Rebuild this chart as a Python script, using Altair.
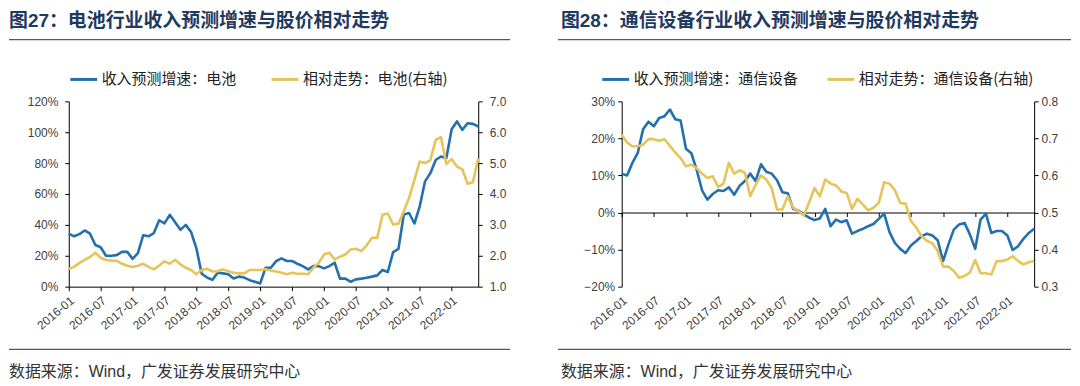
import altair as alt
import pandas as pd

# ---------------- data ----------------
months = pd.date_range("2016-01-01", "2022-06-01", freq="MS").strftime("%Y-%m").tolist()
tick_labels = [m for m in months if m.endswith("-01") or m.endswith("-07")]

battery_growth = [34.3, 32.6, 34.0, 36.4, 34.3, 27.0, 25.5, 20.0, 20.0, 20.4, 22.5, 22.5,
                  18.0, 21.7, 33.3, 32.6, 34.7, 43.0, 41.0, 46.5, 41.7, 36.8, 40.0, 35.4,
                  24.8, 8.4, 5.9, 4.4, 9.0, 8.6, 8.0, 5.3, 6.5, 5.9, 4.2, 3.2,
                  2.1, 12.2, 12.2, 16.5, 18.3, 16.6, 16.6, 14.8, 13.3, 11.2, 13.3, 13.3,
                  11.8, 13.3, 15.5, 5.2, 5.2, 3.2, 4.7, 5.2, 5.8, 6.5, 7.3, 10.8,
                  9.5, 22.4, 24.5, 46.7, 47.7, 40.9, 52.0, 68.2, 73.5, 82.0, 84.3, 83.2,
                  102.0, 107.0, 101.5, 105.8, 105.4, 103.7]
battery_rel = [1.58, 1.64, 1.77, 1.87, 1.96, 2.10, 1.93, 1.87, 1.84, 1.84, 1.74, 1.68,
               1.64, 1.68, 1.74, 1.64, 1.56, 1.68, 1.82, 1.74, 1.87, 1.72, 1.61, 1.54,
               1.40, 1.54, 1.58, 1.49, 1.50, 1.56, 1.50, 1.45, 1.43, 1.43, 1.54, 1.54,
               1.54, 1.56, 1.52, 1.49, 1.45, 1.40, 1.45, 1.42, 1.42, 1.40, 1.61, 1.77,
               2.04, 2.10, 1.88, 1.97, 2.04, 2.20, 2.23, 2.15, 2.33, 2.58, 2.58, 3.33,
               3.37, 3.01, 3.04, 3.44, 3.87, 4.46, 5.05, 5.00, 5.10, 5.75, 5.84, 4.97,
               5.13, 4.89, 4.80, 4.33, 4.38, 5.16]
telecom_growth = [10.5, 10.0, 13.4, 16.1, 22.5, 24.5, 23.3, 25.5, 26.0, 27.8, 25.2, 24.8,
                  17.2, 16.0, 11.5, 6.0, 3.5, 5.0, 6.0, 5.8, 6.8, 4.8, 7.2, 8.5,
                  10.5, 8.5, 13.0, 11.0, 10.5, 8.7, 5.5, 5.2, 1.0, 0.5, -0.5, -1.4,
                  -2.0, -1.6, 1.0, -3.7, -1.9, -2.6, -2.1, -5.7, -5.0, -4.4, -3.7, -3.1,
                  -1.7, -0.3, -5.3, -8.2, -9.8, -10.9, -8.9, -7.7, -6.4, -5.7, -6.2, -7.5,
                  -13.1, -8.6, -4.6, -3.2, -2.8, -5.9, -9.8, -1.9, -0.3, -5.5, -5.0, -5.0,
                  -6.2, -10.1, -9.1, -7.1, -5.5, -4.4]
telecom_rel = [0.710, 0.689, 0.679, 0.679, 0.683, 0.698, 0.698, 0.694, 0.698, 0.680, 0.662, 0.647,
               0.625, 0.629, 0.620, 0.605, 0.593, 0.598, 0.569, 0.578, 0.634, 0.605, 0.614, 0.607,
               0.544, 0.575, 0.600, 0.589, 0.566, 0.508, 0.508, 0.544, 0.513, 0.504, 0.492, 0.528,
               0.566, 0.544, 0.589, 0.578, 0.573, 0.557, 0.553, 0.510, 0.537, 0.522, 0.506, 0.513,
               0.526, 0.582, 0.578, 0.560, 0.526, 0.524, 0.477, 0.459, 0.436, 0.423, 0.417, 0.396,
               0.354, 0.354, 0.342, 0.324, 0.329, 0.338, 0.372, 0.336, 0.336, 0.333, 0.369, 0.369,
               0.373, 0.382, 0.369, 0.360, 0.366, 0.369]

BLUE = "#2470AE"
YELLOW = "#E6C45A"
SANS = "Liberation Sans, Noto Sans CJK SC"
CJK = "Noto Sans CJK SC"
PH = 186


def panel(title, s1, s2, v1, v2, dom1, ticks1, dom2, ticks2, width,
          legend_x, col_pad, rule_x0, rule_x1, title_x, zero_axis,
          lpad_left, lpad_right):
    df = pd.DataFrame({
        "month": months * 2,
        "series": [s1] * len(months) + [s2] * len(months),
        "value": [v / 100 for v in v1] + list(v2),
    })
    base = alt.Chart(df)
    color = alt.Color(
        "series:N",
        scale=alt.Scale(domain=[s1, s2], range=[BLUE, YELLOW]),
        legend=alt.Legend(title=None, orient="none", legendX=legend_x, legendY=-37,
                          direction="horizontal", symbolType="stroke", symbolSize=729,
                          symbolStrokeWidth=3, labelFont=CJK, labelFontSize=15,
                          labelColor="#222222", columnPadding=col_pad, labelOffset=3,
                          labelLimit=400, padding=0),
    )
    xscale = alt.Scale(type="point", padding=0)
    if zero_axis:
        off = PH * (0 - dom1[0]) / (dom1[1] - dom1[0])
        x_axis = alt.Axis(values=tick_labels, labelAngle=320, offset=-off,
                          labelPadding=off + 4, title=None)
    else:
        x_axis = alt.Axis(values=tick_labels, labelAngle=320, labelPadding=4, title=None)

    x_enc = alt.X("month:O", scale=xscale, axis=x_axis, sort=None)
    line1 = base.transform_filter(alt.datum.series == s1).mark_line(
        strokeWidth=2.6, strokeJoin="round").encode(
        x=x_enc,
        y=alt.Y("value:Q", scale=alt.Scale(domain=dom1, nice=False),
                axis=alt.Axis(orient="left", values=ticks1, format=".0%", title=None,
                              labelPadding=lpad_left)),
        color=color,
    )
    line2 = base.transform_filter(alt.datum.series == s2).mark_line(
        strokeWidth=2.6, strokeJoin="round").encode(
        x=x_enc,
        y=alt.Y("value:Q", scale=alt.Scale(domain=dom2, nice=False),
                axis=alt.Axis(orient="right", values=ticks2, format=".1f", title=None,
                              labelPadding=lpad_right)),
        color=color,
    )
    one = alt.Chart(pd.DataFrame({"k": [0]}))
    title_t = one.mark_text(text=title, align="left", baseline="middle", font=SANS,
                            fontSize=19, fontWeight="bold", color="#1F3A60").encode(
        x=alt.value(title_x), y=alt.value(-81))
    rule_top = one.mark_rule(color="#595959", strokeWidth=1.3).encode(
        x=alt.value(rule_x0), x2=alt.value(rule_x1), y=alt.value(-62))
    rule_bot = one.mark_rule(color="#595959", strokeWidth=1.3).encode(
        x=alt.value(rule_x0), x2=alt.value(rule_x1), y=alt.value(249))
    source_t = one.mark_text(text="数据来源：Wind，广发证券发展研究中心", align="left",
                             baseline="middle", font=SANS, fontSize=16,
                             color="#333333").encode(
        x=alt.value(title_x), y=alt.value(272))

    return alt.layer(line1, line2, title_t, rule_top, rule_bot, source_t).resolve_scale(
        y="independent").properties(width=width, height=PH)


left = panel("图27：电池行业收入预测增速与股价相对走势",
             "收入预测增速：电池", "相对走势：电池(右轴)",
             battery_growth, battery_rel,
             [0, 1.2], [0, 0.2, 0.4, 0.6, 0.8, 1.0, 1.2],
             [1, 7], [1, 2, 3, 4, 5, 6, 7],
             411, 0, 28, -60, 443, -60, False, 7, 7)

right = panel("图28：通信设备行业收入预测增速与股价相对走势",
              "收入预测增速：通信设备", "相对走势：通信设备(右轴)",
              telecom_growth, telecom_rel,
              [-0.2, 0.3], [-0.2, -0.1, 0, 0.1, 0.2, 0.3],
              [0.3, 0.8], [0.3, 0.4, 0.5, 0.6, 0.7, 0.8],
              414, -21, 22, -64, 451, -61, True, 3, 3)

chart = alt.hconcat(left, right, spacing=46).resolve_scale(
    color="independent", x="independent", y="independent"
).configure(padding={"left": 0, "top": 3, "right": 0, "bottom": 0},
            background="white").configure_view(stroke=None).configure_axis(
    grid=False, domainColor="#000000", domainWidth=1, tickColor="#000000", tickSize=4,
    labelFont="Liberation Sans", labelFontSize=12, labelColor="#404040",
)

chart.save("out.html", embed_options={"renderer": "svg", "actions": False})
